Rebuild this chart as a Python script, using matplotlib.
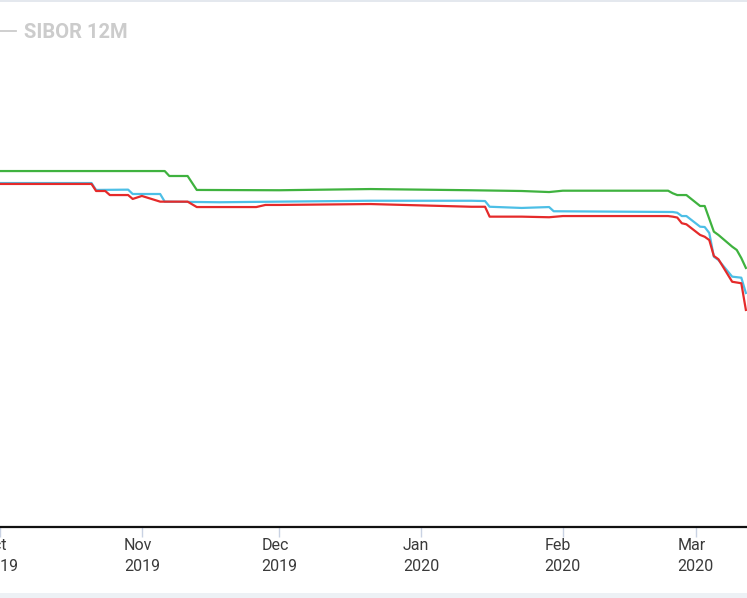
import matplotlib
matplotlib.use("Agg")
import matplotlib.pyplot as plt
import pandas as pd
from matplotlib.patches import Rectangle
from matplotlib.lines import Line2D

# values (percent)
green_dates = ["2019-09-30", "2019-11-06", "2019-11-07", "2019-11-11", "2019-11-13",
               "2019-12-01", "2019-12-21", "2020-01-12", "2020-01-23", "2020-01-29",
               "2020-02-01", "2020-02-24", "2020-02-25", "2020-02-26", "2020-02-28",
               "2020-03-02", "2020-03-03", "2020-03-05", "2020-03-06", "2020-03-09",
               "2020-03-10", "2020-03-11", "2020-03-12"]
green_vals = [2.373, 2.373, 2.340, 2.340, 2.247,
              2.245, 2.253, 2.245, 2.240, 2.233,
              2.242, 2.242, 2.225, 2.213, 2.213,
              2.140, 2.140, 1.969, 1.947, 1.869,
              1.847, 1.793, 1.727]

blue_dates = ["2019-09-30", "2019-10-21", "2019-10-22", "2019-10-29", "2019-10-30",
              "2019-11-05", "2019-11-06", "2019-11-18", "2019-12-01", "2019-12-21",
              "2020-01-12", "2020-01-15", "2020-01-16", "2020-01-23", "2020-01-29",
              "2020-01-30", "2020-02-25", "2020-02-26", "2020-02-27", "2020-02-28",
              "2020-03-02", "2020-03-03", "2020-03-04", "2020-03-05", "2020-03-06",
              "2020-03-09", "2020-03-11", "2020-03-12"]
blue_vals = [2.293, 2.293, 2.247, 2.249, 2.220,
             2.220, 2.169, 2.165, 2.169, 2.175,
             2.175, 2.173, 2.135, 2.127, 2.133,
             2.105, 2.100, 2.095, 2.073, 2.073,
             2.002, 2.000, 1.960, 1.802, 1.780,
             1.669, 1.662, 1.560]

red_dates = ["2019-09-30", "2019-10-21", "2019-10-22", "2019-10-24", "2019-10-25",
             "2019-10-29", "2019-10-30", "2019-11-01", "2019-11-05", "2019-11-11",
             "2019-11-13", "2019-11-26", "2019-11-28", "2019-12-01", "2019-12-21",
             "2020-01-12", "2020-01-15", "2020-01-16", "2020-01-23", "2020-01-29",
             "2020-02-01", "2020-02-24", "2020-02-25", "2020-02-26", "2020-02-27",
             "2020-02-28", "2020-03-02", "2020-03-03", "2020-03-04", "2020-03-05",
             "2020-03-06", "2020-03-09", "2020-03-11", "2020-03-12"]
red_vals = [2.287, 2.287, 2.240, 2.240, 2.213,
            2.213, 2.187, 2.207, 2.169, 2.169,
            2.133, 2.133, 2.147, 2.147, 2.153,
            2.135, 2.135, 2.069, 2.069, 2.065,
            2.073, 2.073, 2.069, 2.063, 2.025,
            2.018, 1.947, 1.935, 1.913, 1.807,
            1.785, 1.635, 1.625, 1.447]

month_ticks = ["2019-10-01", "2019-11-01", "2019-12-01", "2020-01-01", "2020-02-01", "2020-03-01"]
month_labels = ["Oct\n2019", "Nov\n2019", "Dec\n2019", "Jan\n2020", "Feb\n2020", "Mar\n2020"]

GREEN = "#3fb23f"
BLUE = "#4dbfe6"
RED = "#e52a2a"
TICK_LABEL = "#3a3a3a"

plt.rcParams["font.family"] = ["Roboto", "DejaVu Sans"]

W, H = 747, 598
fig = plt.figure(figsize=(W / 100, H / 100), dpi=100)
ax = fig.add_axes([0, 1 - 527 / H, 1, (527 - 60) / H])

for d, v, c in [(green_dates, green_vals, GREEN),
                (blue_dates, blue_vals, BLUE),
                (red_dates, red_vals, RED)]:
    ax.plot(pd.to_datetime(d), v, color=c, linewidth=1.6, solid_joinstyle="round")

# 4.59 px per day, Nov 1 sits at x=140
x0 = pd.Timestamp("2019-11-01") - pd.Timedelta(days=140 / 4.59)
x1 = pd.Timestamp("2019-11-01") + pd.Timedelta(days=(W - 140) / 4.59)
ax.set_xlim(x0, x1)
ax.set_ylim(0, (527 - 60) / 150)

for s in ["top", "left", "right"]:
    ax.spines[s].set_visible(False)
ax.spines["bottom"].set_color("#111111")
ax.spines["bottom"].set_linewidth(1.6)

ax.set_yticks([])
ax.set_xticks(pd.to_datetime(month_ticks))
ax.set_xticklabels(month_labels, fontsize=11.5, color=TICK_LABEL,
                   multialignment="left", linespacing=1.45)
ax.tick_params(axis="x", length=7, width=1, color="#c9d2e3", pad=1)

# legend item (greyed out)
fig.add_artist(Line2D([0, 16 / W], [1 - 31 / H, 1 - 31 / H], color="#cccccc", linewidth=1.3))
fig.text(24 / W, 1 - 32 / H, "SIBOR 12M", fontsize=14.5, fontweight="bold",
         color="#cccccc", va="center", ha="left")

# frame bits
fig.add_artist(Rectangle((0, 1 - 2 / H), 1, 2 / H, transform=fig.transFigure,
                         color="#e4e8ee", lw=0))
fig.add_artist(Rectangle((0, 0), 1, 5 / H, transform=fig.transFigure,
                         color="#edf1f5", lw=0))

fig.savefig("out.png", dpi=100)
